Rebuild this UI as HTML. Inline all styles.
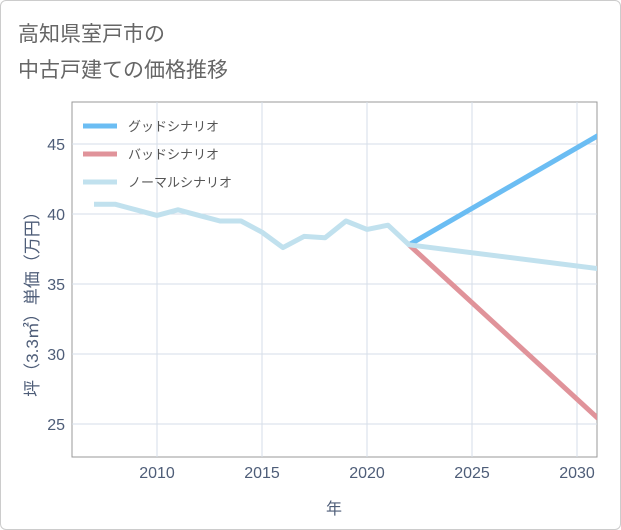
<!DOCTYPE html>
<html><head><meta charset="utf-8"><style>
body{margin:0;background:#fff;font-family:"Liberation Sans","Noto Sans CJK JP",sans-serif}
#wrap{position:relative;width:619px;height:528px;border:1px solid #ccc;border-radius:6px;overflow:hidden}
</style></head><body>
<div id="wrap">
<svg id="chart" width="621" height="530" style="position:absolute;left:-1px;top:-1px"></svg>
</div>
<script>
const years=[2007,2008,2009,2010,2011,2012,2013,2014,2015,2016,2017,2018,2019,2020,2021,2022,2031];
const normal=[40.7,40.7,40.3,39.9,40.3,39.9,39.5,39.5,38.7,37.6,38.4,38.3,39.5,38.9,39.2,37.8,36.1];
const goodYears=[2022,2031];const good=[37.8,45.6];
const badYears=[2022,2031];const bad=[37.8,25.4];
const xTicks=[2010,2015,2020,2025,2030];const yTicks=[25,30,35,40,45];
const NS='http://www.w3.org/2000/svg';const svg=document.getElementById('chart');
const X=v=>157+(v-2010)*21, Y=v=>214-(v-40)*14;
function el(t,a,p){const e=document.createElementNS(NS,t);for(const k in a)e.setAttribute(k,a[k]);(p||svg).appendChild(e);return e;}
function txt(s,a){const e=el('text',a);e.textContent=s;return e;}
let t;
t=txt('高知県室戸市の',{x:18,y:41,'font-size':21,fill:'#666'});

t=txt('中古戸建ての価格推移',{x:18,y:77,'font-size':21,fill:'#666'});

let r=el('rect',{x:72,y:102,width:525,height:355,fill:'none',stroke:'#999','stroke-width':1});

xTicks.forEach(v=>{let l=el('line',{x1:X(v),x2:X(v),y1:102,y2:457,stroke:'#d5dee8'});

let s=txt(v,{x:X(v),y:478,'font-size':16,fill:'#4e5d78','text-anchor':'middle'});
});
yTicks.forEach(v=>{let l=el('line',{x1:72,x2:597,y1:Y(v),y2:Y(v),stroke:'#d5dee8'});

let s=txt(v,{x:65,y:Y(v)+6,'font-size':16,fill:'#4e5d78','text-anchor':'end'});
});
t=txt('年',{x:334,y:514,'font-size':16,fill:'#4e5d78','text-anchor':'middle'});

t=txt('坪（3.3㎡）単価（万円）',{x:0,y:0,'font-size':17,fill:'#4e5d78','text-anchor':'middle',transform:'translate(38,300) rotate(-90)'});

const cp=el('clipPath',{id:'cp'});el('rect',{x:72,y:102,width:525,height:355},cp);
function line(xs,ys,c,name){const p=el('polyline',{points:xs.map((x,i)=>X(x)+','+Y(ys[i])).join(' '),fill:'none',stroke:c,'stroke-width':5,'stroke-linejoin':'round','clip-path':'url(#cp)'});
}
line(badYears,bad,'#e0939a','bad-scenario-line');
line(goodYears,good,'#6bbdf3','good-scenario-line');
line(years,normal,'#c1e1ee','normal-scenario-line');
[['グッドシナリオ','#6bbdf3'],['バッドシナリオ','#e0939a'],['ノーマルシナリオ','#c1e1ee']].forEach((d,i)=>{
const g=el('g',{});
el('line',{x1:83,x2:117,y1:126+i*28,y2:126+i*28,stroke:d[1],'stroke-width':5},g);
const s=el('text',{x:128,y:131+i*28,'font-size':13,fill:'#555'},g);s.textContent=d[0];});
</script>
</body></html>
